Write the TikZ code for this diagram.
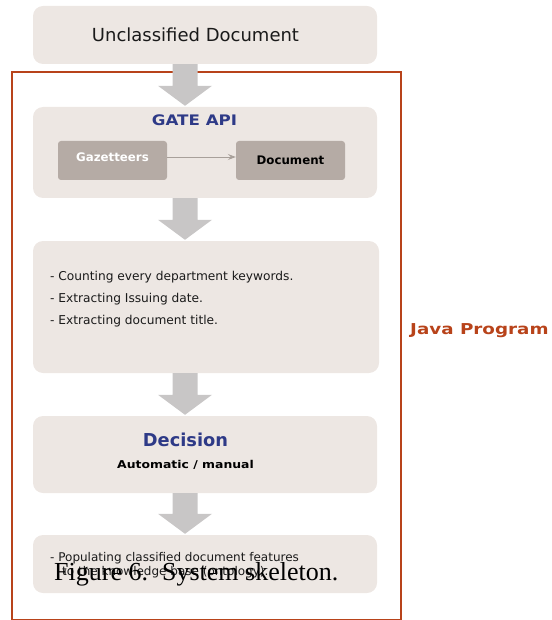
\documentclass[tikz,border=0pt]{standalone}
\usepackage{fontspec}
\setmainfont{DejaVu Sans}
\newfontfamily\widefont[FakeStretch=1.15]{DejaVu Sans}
\newfontfamily\widerfont[FakeStretch=1.22]{DejaVu Sans}
\newfontfamily\capfont{Liberation Serif}
\usetikzlibrary{calc,arrows.meta}
\definecolor{boxfill}{HTML}{EDE7E3}
\definecolor{innerfill}{HTML}{B5ABA5}
\definecolor{arrowgray}{HTML}{C8C6C6}
\definecolor{thinarrow}{HTML}{A8A09A}
\definecolor{titleblue}{HTML}{2E3A87}
\definecolor{framered}{HTML}{B8431A}
\definecolor{txt}{HTML}{1A1A1A}
\tikzset{
  stagebox/.style={fill=boxfill, draw=none, rounded corners=10pt, inner sep=0pt},
  innerbox/.style={fill=innerfill, draw=none, rounded corners=3pt, inner sep=0pt,
    minimum width=109pt, minimum height=39pt, font=\bfseries\fontsize{11.8}{14}\selectfont},
  bodytext/.style={text=txt, inner sep=0pt, align=left},
  blockarrow/.style={fill=arrowgray, draw=none},
}
\newcommand{\bigarrow}[2]{%
  \fill[blockarrow] ($(#1.south -| ax)+(-12.5,0)$) -- ($(#2.north -| ax)+(-12.5,-21)$)
    -- ($(#2.north -| ax)+(-27,-21)$) -- ($(#2.north -| ax)+(0,-1)$)
    -- ($(#2.north -| ax)+(27,-21)$) -- ($(#2.north -| ax)+(12.5,-21)$)
    -- ($(#1.south -| ax)+(12.5,0)$) -- cycle;}
\begin{document}
\begin{tikzpicture}[x=1pt,y=-1pt]
\useasboundingbox (0,0) rectangle (551,620);
\coordinate (ax) at (185,0);
% frame
\draw[framered, line width=1.5pt] (12,72) rectangle (401,619.5);
\node[text=framered, font=\widerfont\bfseries\fontsize{15}{18}\selectfont, anchor=west, inner sep=0pt] (java) at (410,331) {Java Program};
% boxes
\node[stagebox, minimum width=344pt, minimum height=58pt] (b1) at (205,35) {};
\node[text=txt, font=\fontsize{18}{21}\selectfont, inner sep=0pt] (b1t) at (195.5,35) {Unclassified Document};
\node[stagebox, minimum width=344pt, minimum height=91pt] (b2) at (205,152.5) {};
\node[text=titleblue, font=\widefont\bfseries\fontsize{14.5}{17}\selectfont, inner sep=0pt] (gate) at (194.5,120) {GATE API};
\node[innerbox, text=white] (gaz) at (112.5,160.5) {\raisebox{6pt}{Gazetteers}};
\node[innerbox, text=black] (doc) at (290.5,160.5) {\raisebox{-1pt}{Document}};
\draw[thinarrow, line width=0.8pt, -{Stealth[length=8pt,width=6pt,inset=3pt]}] (gaz.east |- 0,157) -- (doc.west |- 0,157);
\node[stagebox, minimum width=346pt, minimum height=132pt] (b3) at (206,307) {};
\node[bodytext, font=\fontsize{12.2}{22}\selectfont, anchor=north west] (b3t) at (50,271.5)
  {- Counting every department keywords.\\- Extracting Issuing date.\\- Extracting document title.};
\node[stagebox, minimum width=344pt, minimum height=77pt] (b4) at (205,454.5) {};
\node[text=titleblue, font=\bfseries\fontsize{17.8}{21}\selectfont, inner sep=0pt] (dec) at (185.5,440) {Decision};
\node[text=black, font=\widefont\bfseries\fontsize{10.8}{13}\selectfont, inner sep=0pt] (auto) at (185.5,465) {Automatic / manual};
\node[stagebox, minimum width=344pt, minimum height=58pt] (b5) at (205,564) {};
\node[bodytext, font=\fontsize{12}{14}\selectfont, anchor=north west] (b5t) at (50,552)
  {- Populating classified document features\\\hspace*{12pt}to the knowledge base (ontology).};
% arrows
\bigarrow{b1}{b2}
\bigarrow{b2}{b3}
\bigarrow{b3}{b4}
\bigarrow{b4}{b5}
% caption
\node[text=black, font=\capfont\fontsize{26}{30}\selectfont, anchor=west, inner sep=0pt] (cap) at (54,574) {Figure 6.\hspace{14pt}System skeleton.};
\end{tikzpicture}
\end{document}
